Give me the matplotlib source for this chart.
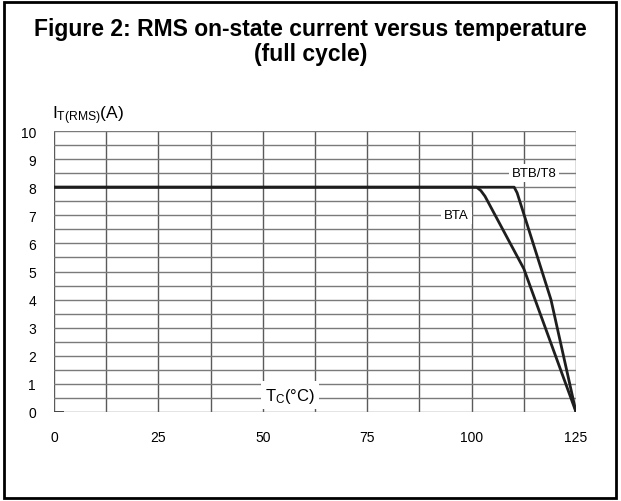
import matplotlib
matplotlib.use("Agg")
import matplotlib.pyplot as plt
from matplotlib.patches import Rectangle

plt.rcParams['font.family'] = ['Liberation Sans', 'DejaVu Sans']
plt.rcParams['mathtext.fontset'] = 'custom'
plt.rcParams['mathtext.rm'] = 'Liberation Sans'
plt.rcParams['mathtext.it'] = 'Liberation Sans'

# curves: Tc (deg C) -> IT(RMS) (A)
bta_tc = [0, 101.2, 102.2, 103.2, 112.5, 125]
bta_it = [8, 8, 7.88, 7.68, 5.1, 0]
btb_tc = [0, 110.2, 110.9, 119.0, 125]
btb_it = [8, 8, 7.8, 4.0, 0]

x_ticks = [0, 25, 50, 75, 100, 125]
y_ticks = [0, 1, 2, 3, 4, 5, 6, 7, 8, 9, 10]

fig = plt.figure(figsize=(6.21, 5.02), dpi=100)
ax = fig.add_axes([54 / 621, 89 / 502, 522 / 621, 281 / 502])

# grid
for i in range(11):
    ax.axvline(i * 12.5, color='#5a5a5a', lw=1.0, zorder=1)
for i in range(21):
    ax.axhline(i * 0.5, color='#7a7a7a', lw=1.0, zorder=1)
ax.plot([0, 2.2], [0, 0], color='#444444', lw=1.4, zorder=2)

ax.plot(bta_tc, bta_it, color='#1e1e1e', lw=2.0, solid_joinstyle='round', zorder=3)
ax.plot(btb_tc, btb_it, color='#1e1e1e', lw=2.0, solid_joinstyle='round', zorder=3)

box = dict(facecolor='white', edgecolor='none', pad=2)
ax.text(115.0, 8.5, 'BTB/T8', fontsize=9.5, ha='center', va='center', bbox=box, zorder=4)
ax.text(96.4, 7.0, 'BTA', fontsize=9.5, ha='center', va='center', bbox=box, zorder=4)
ax.text(56.5, 0.6, 'T$_{\\mathrm{C}}$(°C)', fontsize=12, ha='center', va='center',
        bbox=dict(facecolor='white', edgecolor='none', pad=3), zorder=4)

ax.set_xlim(0, 125)
ax.set_ylim(0, 10)
ax.set_xticks(x_ticks)
ax.set_yticks(y_ticks)
ax.tick_params(length=0, labelsize=10)
ax.tick_params(axis='x', pad=13)
ax.tick_params(axis='y', pad=13)
for s in ax.spines.values():
    s.set_visible(False)

fig.text(52 / 621, 1 - 116 / 502, 'I$_{\\mathrm{T(RMS)}}$(A)', fontsize=12.5, ha='left', va='center')

fig.text(0.5, 1 - 30 / 502, 'Figure 2: RMS on-state current versus temperature',
         fontsize=16.5, fontweight='bold', ha='center', va='center')
fig.text(0.5, 1 - 54 / 502, '(full cycle)',
         fontsize=16.5, fontweight='bold', ha='center', va='center')

fig.patches.append(Rectangle((4 / 621, 3 / 502), 612 / 621, 496 / 502, transform=fig.transFigure,
                             fill=False, edgecolor='black', lw=2.0))

fig.savefig('out.png', dpi=100)
